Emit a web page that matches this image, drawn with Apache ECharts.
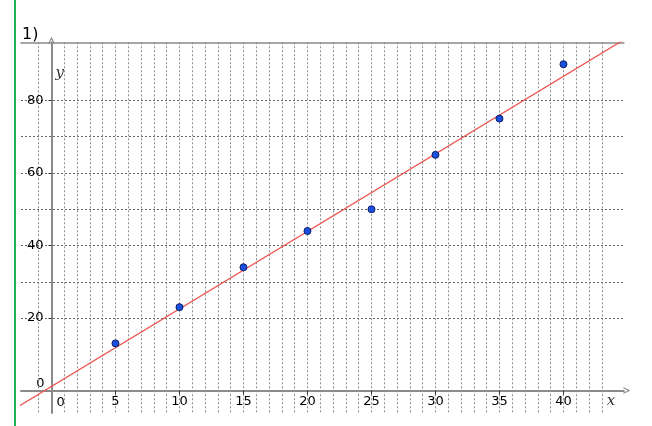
<!DOCTYPE html>
<html><head><meta charset="utf-8">
<script src="https://cdn.jsdelivr.net/npm/echarts@6/dist/echarts.min.js"></script>
<style>html,body{margin:0;padding:0;background:#fff;overflow:hidden}#c{width:652px;height:426px}</style>
</head><body><div id="c"></div>
<script>
// ---- data ----
const pointX = [5, 10, 15, 20, 25, 30, 35, 40];
const pointY = [13, 23, 34, 44, 50, 65, 75, 90];
const fitLineX = [-3, 46];
const fitLineY = [-5.3, 99.5];
const xTickLabels = [5, 10, 15, 20, 25, 30, 35, 40];
const yTickLabels = [20, 40, 60, 80];
const xGridValues = [-2, -1, 0, 1, 2, 3, 4, 5, 6, 7, 8, 9, 10, 11, 12, 13, 14, 15, 16, 17, 18, 19, 20, 21, 22, 23, 24, 25, 26, 27, 28, 29, 30, 31, 32, 33, 34, 35, 36, 37, 38, 39, 40, 41, 42, 43, 44];
const yGridValues = [10, 20, 30, 40, 50, 60, 70, 80, 90];
const xRange = [-2.38, 44.72];
const yRange = [-6.2, 96.05];
const xAxisName = 'x';
const yAxisName = 'y';
const panelLabel = '1)';
const originLabel = '0';

// ---- layout ----
const AXIS_COLOR = '#8a8a8a';
const GRID = {left: 21, top: 42.3, width: 602.9, height: 370.7};
const chevron = 'path://M0,10 L5,0 L10,10 L8.2,10 L5,3.6 L1.8,10 Z';
const labelFont = {fontFamily: 'DejaVu Sans', fontSize: 13, color: '#000'};

const chart = echarts.init(document.getElementById('c'), null, {renderer: 'canvas'});

function buildOption(xOffset, yOffset) {
  return {
    animation: false,
    backgroundColor: '#fff',
    grid: Object.assign({containLabel: false, outerBoundsMode: 'none'}, GRID),
    xAxis: [
      {
        type: 'value', min: xRange[0], max: xRange[1], position: 'bottom', offset: xOffset,
        axisLine: {show: true, onZero: false,
          lineStyle: {color: AXIS_COLOR, width: 2},
          symbol: ['none', chevron], symbolSize: [10, 7], symbolOffset: [0, 3]},
        axisTick: {show: true, length: 4, customValues: xTickLabels, lineStyle: {color: '#333', width: 1}},
        axisLabel: Object.assign({show: true, margin: 5, customValues: xTickLabels}, labelFont),
        splitLine: {show: false}
      },
      {
        type: 'value', min: xRange[0], max: xRange[1], position: 'top',
        axisLine: {show: true, onZero: false, lineStyle: {color: AXIS_COLOR, width: 1.5}},
        axisTick: {show: false, customValues: xGridValues},
        axisLabel: {show: false},
        splitLine: {show: true, showMinLine: false, showMaxLine: false,
          lineStyle: {color: '#8c8c8c', width: 1, type: [2, 2]}}
      }
    ],
    yAxis: [
      {
        type: 'value', min: yRange[0], max: yRange[1], position: 'left', offset: yOffset,
        axisLine: {show: true, onZero: false,
          lineStyle: {color: AXIS_COLOR, width: 2},
          symbol: ['none', chevron], symbolSize: [10, 7], symbolOffset: [0, 2]},
        axisTick: {show: true, length: 3, customValues: yTickLabels, lineStyle: {color: '#333', width: 1}},
        axisLabel: Object.assign({show: true, margin: 8, customValues: yTickLabels}, labelFont),
        splitLine: {show: false}
      },
      {
        type: 'value', min: yRange[0], max: yRange[1],
        axisLine: {show: false, onZero: false},
        axisTick: {show: false, customValues: yGridValues},
        axisLabel: {show: false},
        splitLine: {show: true, showMinLine: false, showMaxLine: false,
          lineStyle: {color: '#666', width: 1, type: [2, 2]}}
      }
    ],
    series: [
      {
        type: 'line', xAxisIndex: 0, yAxisIndex: 0,
        data: fitLineX.map((x, i) => [x, fitLineY[i]]),
        symbol: 'none', clip: true, z: 3,
        lineStyle: {color: '#ee5550', width: 1.3}
      },
      {
        type: 'scatter', xAxisIndex: 0, yAxisIndex: 0,
        data: pointX.map((x, i) => [x, pointY[i]]),
        symbol: 'circle', symbolSize: 7, z: 4,
        itemStyle: {color: '#1a4fe0', borderColor: '#0b1f66', borderWidth: 1, opacity: 1}
      }
    ]
  };
}

chart.setOption(buildOption(0, 0));
const origin = chart.convertToPixel({xAxisIndex: 0, yAxisIndex: 0}, [0, 0]);
const topPx = chart.convertToPixel({yAxisIndex: 0}, yRange[1]);
const rightPx = chart.convertToPixel({xAxisIndex: 0}, xRange[1]);
const bottomPx = chart.convertToPixel({yAxisIndex: 0}, yRange[0]);
const leftPx = chart.convertToPixel({xAxisIndex: 0}, xRange[0]);

const opt = buildOption(-(bottomPx - origin[1]), -(origin[0] - leftPx));
opt.graphic = [
  {type: 'line', shape: {x1: 15, y1: 0, x2: 15, y2: 426}, style: {stroke: '#1cb050', lineWidth: 2}, z: 10},
  {type: 'text', style: {x: 22, y: 27, text: panelLabel, font: '16px "DejaVu Sans"', fill: '#000', align: 'left', verticalAlign: 'top'}},
  {type: 'text', style: {x: origin[0] - 7, y: origin[1] - 6.5, text: originLabel, font: '13px "DejaVu Sans"', fill: '#000', align: 'right', verticalAlign: 'middle'}},
  {type: 'text', style: {x: origin[0] + 5, y: origin[1] + 12, text: originLabel, font: '13px "DejaVu Sans"', fill: '#000', align: 'left', verticalAlign: 'middle'}},
  {type: 'text', style: {x: origin[0] + 4, y: topPx + 31, text: yAxisName, font: 'italic 15px "DejaVu Serif"', fill: '#333', align: 'left', verticalAlign: 'middle'}},
  {type: 'text', style: {x: rightPx - 13, y: origin[1] + 11, text: xAxisName, font: 'italic 15px "DejaVu Serif"', fill: '#333', align: 'center', verticalAlign: 'middle'}}
];
chart.setOption(opt, true);
</script>
</body></html>
